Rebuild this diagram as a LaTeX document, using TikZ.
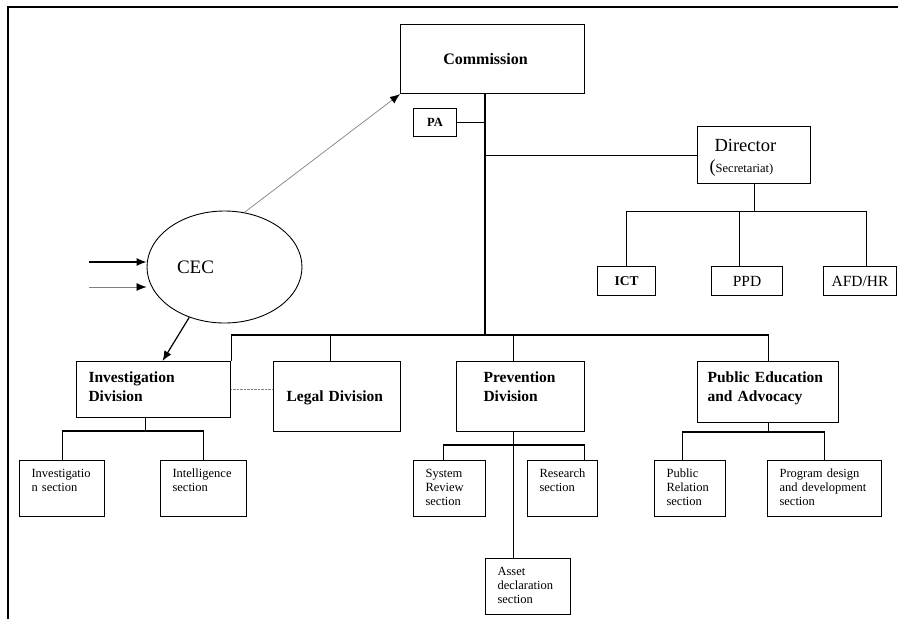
\documentclass[tikz,border=0pt]{standalone}
\usepackage{fontspec}
\setmainfont{Liberation Serif}
\usetikzlibrary{shapes.geometric,arrows.meta,positioning}
\tikzstyle{arrow} = [->,>={Latex[length=10pt,width=8pt,color=black]}]
\tikzset{unit/.style={draw,rectangle,line width=1.1pt,inner sep=0pt},
    division/.style={unit,anchor=north west,align=left,inner xsep=12pt,inner ysep=4pt,text height=17pt,font=\fontsize{15.5}{19}\selectfont\bfseries},
    section/.style={unit,anchor=north west,align=left,inner xsep=12pt,inner ysep=4pt,text height=13pt,text depth=35pt,font=\fontsize{12.5}{14}\selectfont}}

\begin{document}
\begin{tikzpicture}[x=1pt,y=-1pt]
    \useasboundingbox (0,0) rectangle (898,619);
    \draw [line width=1.2pt] (898,7) -- (8,7) -- (8,619);

    % top of the chart
    \node [unit, anchor=north west, minimum width=184pt, minimum height=69pt, font=\fontsize{16}{19}\selectfont\bfseries] (comm) at (400,24) {Commission\hspace*{14pt}};
    \node [unit, anchor=north west, minimum width=43pt, minimum height=28pt, font=\fontsize{12.5}{15}\selectfont\bfseries] (pa) at (413,108) {PA};
    \node [unit, anchor=north west, align=left, text width=89pt, inner xsep=12pt, inner ysep=4pt, text height=21pt, text depth=28pt, font=\fontsize{18.5}{21}\selectfont] (dir) at (697,126) {\hspace*{5pt}Director\\(\fontsize{12.5}{15}\selectfont Secretariat)};
    \node [unit, anchor=north west, minimum width=58pt, minimum height=29pt, font=\fontsize{13.5}{16}\selectfont\bfseries] (ict) at (597,266) {ICT};
    \node [unit, anchor=north west, minimum width=71pt, minimum height=29pt, font=\fontsize{15.5}{18}\selectfont] (ppd) at (711,266) {PPD};
    \node [unit, anchor=north west, minimum width=73pt, minimum height=29pt, font=\fontsize{15.5}{18}\selectfont] (afd) at (823,266) {AFD/HR};

    \node [ellipse, draw, line width=0.9pt, minimum width=155pt, minimum height=112pt, inner sep=0pt, font=\fontsize{19}{22}\selectfont] (cec) at (224.5,267) {CEC\hspace*{58pt}};

    % divisions
    \node [division, text width=130pt, text depth=31pt] (inv) at (76,361) {Investigation\\Division};
    \node [division, text width=101pt, inner xsep=13pt, text height=36pt, text depth=26pt] (legal) at (273,361) {Legal Division};
    \node [division, text width=74pt, inner xsep=27pt, text depth=45pt] (prev) at (456,361) {Prevention\\Division};
    \node [division, text width=121pt, inner xsep=10pt, text depth=36pt] (pub) at (697,361) {Public Education\\and Advocacy};

    % sections
    \node [section, text width=61pt] (invsec) at (19,460) {Investigatio\\n section};
    \node [section, text width=62pt] (intel) at (160,460) {Intelligence\\section};
    \node [section, text width=48pt] (sysrev) at (413,460) {System\\Review\\section};
    \node [section, text width=46pt] (research) at (527,460) {Research\\section};
    \node [section, text width=61pt] (asset) at (485,558) {Asset\\declaration\\section};
    \node [section, text width=47pt] (pubrel) at (654,460) {Public\\Relation\\section};
    \node [section, text width=90pt] (prog) at (767,460) {Program design\\and development\\section};

    % links
    \coordinate (bus) at (485,335);
    \draw [line width=1.1pt] (comm.south -| bus) -- (bus);
    \draw [line width=1.1pt] (pa.east) -- (pa.east -| bus);
    \draw [line width=1.1pt] (dir.west) -- (dir.west -| bus);
    \draw [line width=1.1pt] (dir.south) -- ++(0,27) coordinate (dirbus);
    \draw [line width=1.1pt] (ict.north) |- ([xshift=6.5]afd.north |- dirbus) -- ([xshift=6.5]afd.north);
    \draw [line width=1.1pt] ([xshift=-7.5]ppd.north) -- ([xshift=-7.5]ppd.north |- dirbus);

    \draw [line width=1.1pt] (inv.north east) -- (inv.north east |- bus) -- (pub.north |- bus) -- (pub.north);
    \draw [line width=1.1pt] ([xshift=-6.5]legal.north) -- ([xshift=-6.5]legal.north |- bus);
    \draw [line width=1.1pt] ([xshift=-7]prev.north) -- ([xshift=-7]prev.north |- bus);
    \draw [densely dotted, gray] (inv.east) -- (inv.east -| legal.west);

    \draw [line width=1.1pt] ([xshift=-8]inv.south) -- ++(0,14);
    \draw [line width=1.1pt] (invsec.north) -- ++(0,-29) -| (intel.north);
    \draw [line width=1.1pt] ([xshift=-7]prev.south) -- ([xshift=-7]prev.south |- asset.north);
    \draw [line width=1.1pt] ([xshift=-6]sysrev.north) -- ++(0,-15) -| ([xshift=22]research.north);
    \draw [line width=1.1pt] (pub.south) -- ++(0,10);
    \draw [line width=1.1pt] ([xshift=-7.5]pubrel.north) -- ++(0,-28) -| (prog.north);

    % arrows of the CEC
    \coordinate (in1) at (89,262);
    \coordinate (in2) at (89,287);
    \draw [arrow, line width=1.3pt] (in1) -- (in1 -| cec.west);
    \draw [arrow, gray, line width=0.7pt] (in2) -- (in2 -| cec.west);
    \draw [arrow, gray, line width=0.7pt] (cec.70) -- (comm.south west);
    \draw [arrow, line width=1.2pt] (cec.235) -- ([xshift=9]inv.north);
\end{tikzpicture}
\end{document}
